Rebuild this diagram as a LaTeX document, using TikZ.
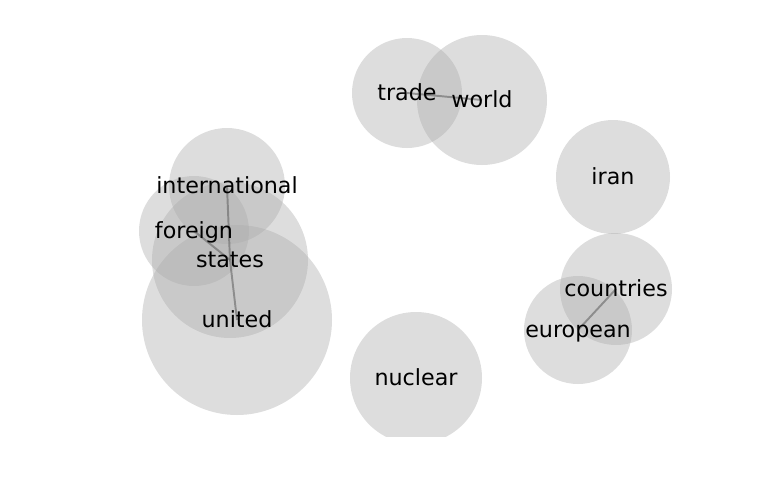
\documentclass[tikz,border=0pt]{standalone}
\usepackage{fontspec}
\setmainfont{DejaVu Sans}
\usetikzlibrary{backgrounds}
\pgfdeclarelayer{links}
\pgfsetlayers{background,links,main}
\begin{document}
\begin{tikzpicture}[x=0.72pt,y=-0.72pt,
        word/.style={font=\fontsize{16}{19}\selectfont, text height=14pt, text depth=3.4pt, inner sep=0pt},
        blob/.style={fill=black!33, fill opacity=0.4},
        link/.style={draw=black!60, line width=1.4pt, opacity=0.6}]
            \useasboundingbox (0,0) rectangle (768,500);
            \node[word] (trade) at (407,93) {trade};
            \node[word] (world) at (482,100) {world};
            \node[word] (iran) at (613,177) {iran};
            \node[word] (countries) at (616,289) {countries};
            \node[word] (european) at (578,330) {european};
            \node[word] (nuclear) at (416,378) {nuclear};
            \node[word] (international) at (227,186) {international};
            \node[word] (foreign) at (194,231) {foreign};
            \node[word] (states) at (230,260) {states};
            \node[word] (united) at (237,320) {united};
            \begin{scope}[on background layer]
                \clip (0,35.5) rectangle (768,436);
                \fill[blob] (trade.center) circle[radius=55];
                \fill[blob] (world.center) circle[radius=65];
                \fill[blob] (iran.center) circle[radius=57];
                \fill[blob] (countries.center) circle[radius=56];
                \fill[blob] (european.center) circle[radius=54];
                \fill[blob] (nuclear.center) circle[radius=66];
                \fill[blob] (international.center) circle[radius=58];
                \fill[blob] (foreign.center) circle[radius=55];
                \fill[blob] (states.center) circle[radius=78];
                \fill[blob] (united.center) circle[radius=95];
            \end{scope}
            \begin{pgfonlayer}{links}
                \draw[link] (trade.center) -- (world.center);
                \draw[link] (countries.center) -- (european.center);
                \draw[link] (international.center) -- (states.center);
                \draw[link] (foreign.center) -- (states.center);
                \draw[link] (states.center) -- (united.center);
            \end{pgfonlayer}
        \end{tikzpicture}
\end{document}
